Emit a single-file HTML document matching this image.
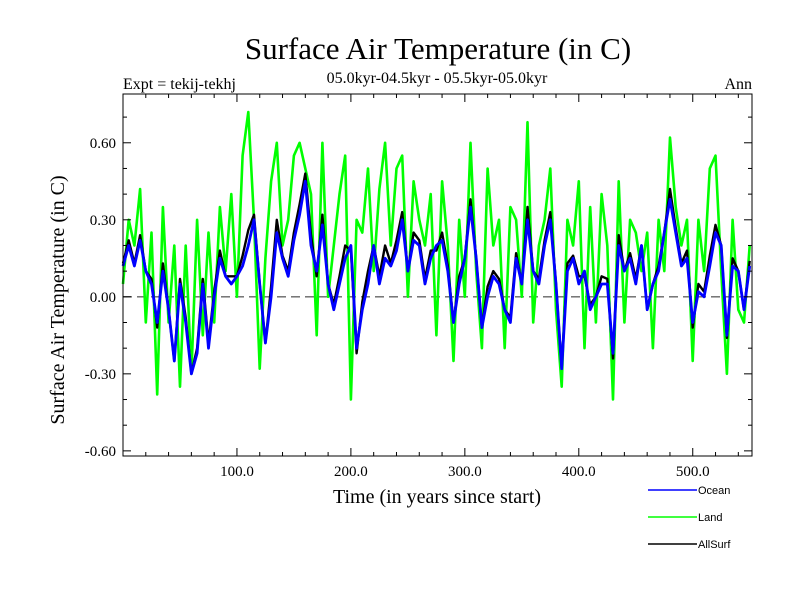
<!DOCTYPE html>
<html><head><meta charset="utf-8"><style>
body{margin:0;background:#fff}
svg text{font-family:"Liberation Serif",serif}
</style></head><body>
<svg id="chart" width="800" height="600" xmlns="http://www.w3.org/2000/svg">
<rect width="800" height="600" fill="#fff"/>
<text x="438" y="59" font-size="31" text-anchor="middle">Surface Air Temperature (in C)</text>
<text x="437" y="83" font-size="16" text-anchor="middle">05.0kyr-04.5kyr - 05.5kyr-05.0kyr</text>
<text x="123" y="89" font-size="16">Expt = tekij-tekhj</text>
<text x="752" y="89" font-size="16" text-anchor="end">Ann</text>
<text transform="translate(64,300) rotate(-90)" font-size="20" text-anchor="middle">Surface Air Temperature (in C)</text>
<text x="437" y="503" font-size="20" text-anchor="middle">Time (in years since start)</text>
<g id="plot"></g>
<g>
<line x1="648" y1="490" x2="697" y2="490" stroke="#0000ff" stroke-width="1.5"/>
<text x="698" y="494" font-size="11" style="font-family:'Liberation Sans',sans-serif">Ocean</text>
<line x1="648" y1="517" x2="697" y2="517" stroke="#00ff00" stroke-width="1.5"/>
<text x="698" y="521" font-size="11" style="font-family:'Liberation Sans',sans-serif">Land</text>
<line x1="648" y1="544" x2="697" y2="544" stroke="#000" stroke-width="1.5"/>
<text x="698" y="548" font-size="11" style="font-family:'Liberation Sans',sans-serif">AllSurf</text>
</g>
</svg>
<script>
const yearStep = 5;
const ocean = [0.12,0.2,0.12,0.22,0.1,0.05,-0.1,0.1,-0.05,-0.25,0.05,-0.1,-0.3,-0.22,0.05,-0.2,0.0,0.15,0.08,0.05,0.08,0.12,0.2,0.3,0.05,-0.18,0.0,0.25,0.15,0.08,0.22,0.32,0.45,0.2,0.1,0.28,0.05,-0.05,0.05,0.15,0.2,-0.2,-0.05,0.05,0.2,0.05,0.15,0.12,0.18,0.3,0.1,0.22,0.2,0.05,0.15,0.2,0.22,0.1,-0.1,0.05,0.15,0.35,0.15,-0.12,0.0,0.08,0.05,-0.05,-0.1,0.15,0.05,0.3,0.1,0.05,0.2,0.3,0.05,-0.28,0.1,0.15,0.05,0.1,-0.05,0.0,0.05,0.05,-0.22,0.2,0.1,0.15,0.05,0.2,-0.05,0.05,0.1,0.25,0.38,0.25,0.12,0.15,-0.1,0.02,0.0,0.12,0.25,0.2,-0.15,0.12,0.1,-0.05,0.12];
const land = [0.05,0.3,0.2,0.42,-0.1,0.25,-0.38,0.35,-0.1,0.2,-0.35,0.2,-0.3,0.3,-0.15,0.25,-0.1,0.35,0.1,0.4,0.0,0.55,0.72,0.3,-0.28,0.15,0.45,0.6,0.2,0.3,0.55,0.6,0.5,0.4,-0.15,0.6,0.0,0.2,0.4,0.55,-0.4,0.3,0.25,0.5,0.1,0.42,0.6,0.2,0.5,0.55,0.0,0.45,0.3,0.2,0.4,-0.15,0.45,0.2,-0.25,0.3,0.0,0.6,0.1,-0.2,0.5,0.2,0.3,-0.2,0.35,0.3,0.0,0.68,-0.1,0.2,0.3,0.5,-0.05,-0.35,0.3,0.2,0.45,-0.2,0.35,-0.1,0.4,0.2,-0.4,0.45,-0.1,0.3,0.25,0.1,0.25,-0.2,0.3,0.1,0.62,0.35,0.2,0.3,-0.25,0.3,0.1,0.5,0.55,0.1,-0.3,0.3,-0.05,-0.1,0.2];
const allSurf = [0.13,0.22,0.13,0.24,0.1,0.07,-0.12,0.13,-0.05,-0.25,0.07,-0.08,-0.3,-0.2,0.07,-0.18,0.02,0.18,0.08,0.08,0.08,0.16,0.26,0.32,0.05,-0.18,0.04,0.3,0.16,0.1,0.25,0.36,0.48,0.24,0.08,0.32,0.05,-0.03,0.08,0.2,0.18,-0.22,-0.02,0.1,0.2,0.08,0.2,0.13,0.22,0.33,0.1,0.25,0.22,0.07,0.18,0.18,0.25,0.12,-0.1,0.08,0.15,0.38,0.15,-0.12,0.04,0.1,0.07,-0.05,-0.08,0.17,0.05,0.35,0.1,0.07,0.22,0.33,0.05,-0.28,0.13,0.16,0.08,0.08,-0.03,0.0,0.08,0.07,-0.24,0.24,0.1,0.17,0.07,0.2,-0.05,0.05,0.12,0.25,0.42,0.27,0.13,0.18,-0.12,0.05,0.02,0.16,0.28,0.2,-0.16,0.15,0.1,-0.05,0.14];
const xTicks = [100,200,300,400,500];
const xTickLabels = ["100.0","200.0","300.0","400.0","500.0"];
const yTicks = [-0.6,-0.3,0,0.3,0.6];
const yTickLabels = ["-0.60","-0.30","0.00","0.30","0.60"];

const L=123,R=752,T=94,B=456,X0=0,X1=552,Y0=-0.62,Y1=0.79;
const sx = v => L + (v - X0) / (X1 - X0) * (R - L);
const sy = v => B - (v - Y0) / (Y1 - Y0) * (B - T);
const NS="http://www.w3.org/2000/svg";
const g=document.getElementById('plot');
function mk(t,a){const e=document.createElementNS(NS,t);for(const k in a)e.setAttribute(k,a[k]);g.appendChild(e);return e;}

const zero=mk('line',{x1:L,x2:R,y1:sy(0),y2:sy(0),stroke:'#666','stroke-width':1.4,'stroke-dasharray':'9,5'});



function series(arr,color,w,name){
  const d=arr.map((v,i)=>(i?'L':'M')+sx(i*yearStep).toFixed(1)+','+sy(v).toFixed(1)).join('');
  const p=mk('path',{d:d,fill:'none',stroke:color,'stroke-width':w,'stroke-linejoin':'round'});
  
  
}
series(land,'#00ff00',2.6,'land-series');
series(allSurf,'#000000',2.4,'allsurf-series');
series(ocean,'#0000ff',2.8,'ocean-series');

const frame=mk('rect',{x:L,y:T,width:R-L,height:B-T,fill:'none',stroke:'#000','stroke-width':1});



for(let v=20;v<X1;v+=20){
  const maj=v%100===0, len=maj?8:4, x=sx(v);
  const t1=mk('line',{x1:x,x2:x,y1:B,y2:B-len,stroke:'#000'});
  
  
  const t2=mk('line',{x1:x,x2:x,y1:T,y2:T+len,stroke:'#000'});
  
  
}
for(let k=-6;k<=7;k++){
  const v=k/10, maj=k%3===0, len=maj?8:4, y=sy(v);
  const t1=mk('line',{x1:L,x2:L+len,y1:y,y2:y,stroke:'#000'});
  
  
  const t2=mk('line',{x1:R,x2:R-len,y1:y,y2:y,stroke:'#000'});
  
  
}
xTicks.forEach((v,i)=>{
  const t=mk('text',{x:sx(v),y:B+20,'font-size':15,'text-anchor':'middle'});
  t.textContent=xTickLabels[i];
  
  
});
yTicks.forEach((v,i)=>{
  const t=mk('text',{x:L-7,y:sy(v)+5,'font-size':15,'text-anchor':'end'});
  t.textContent=yTickLabels[i];
  
  
});
</script>
</body></html>
